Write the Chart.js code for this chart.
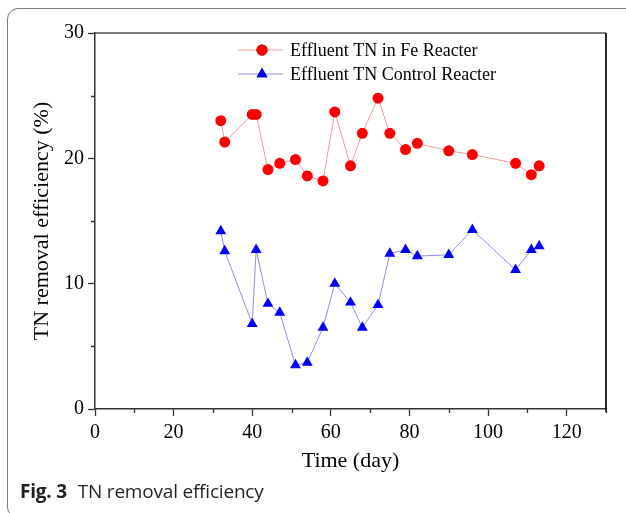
<!DOCTYPE html>
<html>
<head>
<meta charset="utf-8">
<script src="https://cdn.jsdelivr.net/npm/chart.js@4.4.1/dist/chart.umd.min.js"></script>
<style>
  html, body { margin: 0; padding: 0; background: #fff; }
  #wrap { position: relative; width: 626px; height: 513px; overflow: hidden; background: #fff; }
  #frame { position: absolute; left: 7px; top: 8px; width: 640px; height: 510px; border: 1px solid #7a7a7a; border-radius: 11px; box-sizing: border-box; }
  #c { position: absolute; left: 0; top: 0; }
  #caption { position: absolute; left: 20px; top: 478px; font-family: "Open Sans", "Noto Sans", sans-serif; font-size: 19px; color: #231f20; white-space: nowrap; letter-spacing: -0.2px; }
  #caption b { font-weight: 700; margin-right: 6px; }
</style>
</head>
<body>
<div id="wrap">
  <div id="frame"></div>
  <canvas id="c" width="626" height="513"></canvas>
  <div id="caption"><b>Fig. 3</b> TN removal efficiency</div>
</div>
<script>
// ---- data ----
const days = [32, 33, 40, 41, 44, 47, 51, 54, 58, 61, 65, 68, 72, 75, 79, 82, 90, 96, 107, 111, 113];
const feReactor = [23.0, 21.3, 23.5, 23.5, 19.1, 19.6, 19.9, 18.6, 18.2, 23.7, 19.4, 22.0, 24.8, 22.0, 20.7, 21.2, 20.6, 20.3, 19.6, 18.7, 19.4];
const controlReactor = [14.2, 12.6, 6.8, 12.7, 8.4, 7.7, 3.5, 3.7, 6.5, 10.0, 8.5, 6.5, 8.3, 12.4, 12.7, 12.2, 12.3, 14.3, 11.1, 12.7, 13.0];
const seriesNames = ["Effluent TN in Fe Reacter", "Effluent TN Control Reacter"];
const xTitle = "Time (day)";
const yTitle = "TN removal efficiency (%)";
const xRange = [0, 130];
const yRange = [0, 30];

const SERIF = "'Liberation Serif', 'Times New Roman', serif";

function pts(xs, ys) { return xs.map((x, i) => ({ x: x, y: ys[i] })); }

const minorTicks = {
  id: 'minorTicks',
  afterDraw(chart) {
    const ctx = chart.ctx;
    const a = chart.chartArea;
    const xs = chart.scales.x, ys = chart.scales.y;
    ctx.save();
    ctx.beginPath();
    ctx.strokeStyle = '#555';
    ctx.lineWidth = 1.3;
    ctx.moveTo(a.left, a.top); ctx.lineTo(a.right, a.top);
    ctx.stroke();
    ctx.beginPath();
    ctx.strokeStyle = '#111';
    ctx.lineWidth = 1.8;
    ctx.moveTo(a.right, a.top); ctx.lineTo(a.right, a.bottom + 3);
    ctx.stroke();
    ctx.strokeStyle = '#333';
    ctx.lineWidth = 1.3;
    ctx.beginPath();
    for (let v = xRange[0]; v <= xRange[1]; v += 10) {
      if (v % 20 === 0) continue;
      const px = Math.round(xs.getPixelForValue(v)) + 0.5;
      ctx.moveTo(px, a.bottom); ctx.lineTo(px, a.bottom + 4);
    }
    for (let v = yRange[0]; v <= yRange[1]; v += 5) {
      if (v % 10 === 0) continue;
      const py = Math.round(ys.getPixelForValue(v)) + 0.5;
      ctx.moveTo(a.left, py); ctx.lineTo(a.left - 4, py);
    }
    ctx.stroke();
    ctx.restore();
  }
};

const insideLegend = {
  id: 'insideLegend',
  afterDatasetsDraw(chart) {
    const ctx = chart.ctx;
    const rows = [50, 74];
    ctx.save();
    chart.data.datasets.forEach((ds, i) => {
      const y = rows[i];
      ctx.beginPath();
      ctx.strokeStyle = ds.borderColor;
      ctx.lineWidth = 1;
      ctx.moveTo(238, y); ctx.lineTo(283, y);
      ctx.stroke();
      Chart.helpers.drawPoint(ctx, {
        pointStyle: ds.pointStyle, radius: ds.pointRadius, borderWidth: 0, rotation: 0
      }, 262, y);
      ctx.fillStyle = ds.pointBackgroundColor;
      ctx.fill();
      ctx.fillStyle = '#000';
      ctx.font = "18px " + SERIF;
      ctx.textAlign = 'left';
      ctx.textBaseline = 'middle';
      ctx.fillText(ds.label, 290, y + 1);
    });
    ctx.restore();
  }
};

new Chart(document.getElementById('c'), {
  type: 'line',
  data: {
    datasets: [
      {
        label: seriesNames[0],
        data: pts(days, feReactor),
        borderColor: '#f29a9a',
        borderWidth: 1,
        pointStyle: 'circle',
        pointRadius: 5.5,
        pointBackgroundColor: '#ff0000',
        pointBorderColor: '#ff0000',
        pointBorderWidth: 0,
        tension: 0
      },
      {
        label: seriesNames[1],
        data: pts(days, controlReactor),
        borderColor: '#8f8fe6',
        borderWidth: 1,
        pointStyle: 'triangle',
        pointRadius: 6.3,
        pointBackgroundColor: '#0000ff',
        pointBorderColor: '#0000ff',
        pointBorderWidth: 0,
        tension: 0
      }
    ]
  },
  options: {
    responsive: false,
    animation: false,
    devicePixelRatio: 1,
    layout: { padding: { left: 0, top: 33, right: 20, bottom: 0 } },
    plugins: { legend: { display: false }, tooltip: { enabled: false } },
    scales: {
      x: {
        type: 'linear',
        min: xRange[0], max: xRange[1],
        afterFit(s) { s.height = 104; },
        border: { display: true, color: '#333', width: 1.5 },
        grid: { drawOnChartArea: false, drawTicks: true, tickLength: 7,
                tickColor: (c) => (c.tick && c.tick.value % 20 === 0) ? '#333' : 'rgba(0,0,0,0)', tickWidth: 1.3 },
        ticks: {
          stepSize: 10, padding: 5, color: '#000', maxRotation: 0, autoSkip: false,
          font: { family: SERIF, size: 20 },
          callback: (v) => (v % 20 === 0 && v <= 120) ? String(v) : ''
        },
        title: { display: true, text: xTitle, color: '#000', font: { family: SERIF, size: 22 }, padding: { top: 0, bottom: 39 } }
      },
      y: {
        type: 'linear',
        min: yRange[0], max: yRange[1],
        afterFit(s) { s.width = 95; },
        border: { display: true, color: '#333', width: 1.5 },
        grid: { drawOnChartArea: false, drawTicks: true, tickLength: 7,
                tickColor: (c) => (c.tick && c.tick.value % 10 === 0) ? '#333' : 'rgba(0,0,0,0)', tickWidth: 1.3 },
        ticks: {
          stepSize: 5, padding: 4, color: '#000', autoSkip: false,
          font: { family: SERIF, size: 20 },
          callback: (v) => (v % 10 === 0) ? String(v) : ''
        },
        title: { display: true, text: yTitle, color: '#000', font: { family: SERIF, size: 22 }, padding: { top: 29, bottom: 0 } }
      }
    }
  },
  plugins: [minorTicks, insideLegend]
});
</script>
</body>
</html>
